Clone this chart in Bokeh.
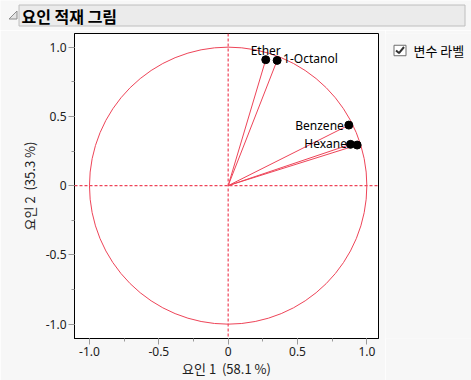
from bokeh.plotting import figure
from bokeh.layouts import column, row
from bokeh.models import (Range1d, Span, Label, ColumnDataSource,
                          SingleIntervalTicker, CustomJSTickFormatter)
from bokeh.embed import file_html
from bokeh.resources import INLINE
from bokeh.core.properties import value

# ---- data ----
variables = ["Ether", "1-Octanol", "Benzene", "Hexane", "Chloroform"]
factor1 = [0.271, 0.353, 0.870, 0.882, 0.930]
factor2 = [0.909, 0.904, 0.437, 0.298, 0.293]
labeled = ["Ether", "1-Octanol", "Benzene", "Hexane"]
x_title = "요인 1\u00a0 (58.1 %)"
y_title = "요인 2\u00a0 (35.3 %)"
panel_title = "요인 적재 그림"
check_label = "변수 라벨"

# ---- styles ----
RED = "#EE4458"
BG = "#F7F7F7"
KR = "Noto Sans CJK KR"
label_place = {
    "Ether": dict(x_offset=0, y_offset=9, text_align="center"),
    "1-Octanol": dict(x_offset=6, y_offset=1.5, text_align="left"),
    "Benzene": dict(x_offset=-5, y_offset=0, text_align="right"),
    "Hexane": dict(x_offset=-3.5, y_offset=1, text_align="right"),
}


def blank(width, height, xr, yr):
    f = figure(width=width, height=height, x_range=Range1d(*xr), y_range=Range1d(*yr),
               output_backend="svg", toolbar_location=None, title=None,
               x_axis_location=None, y_axis_location=None, min_border=0)
    f.outline_line_color = None
    f.background_fill_color = BG
    f.border_fill_color = BG
    f.grid.visible = False
    return f


# ---- header ----
hdr = blank(471, 30, (0, 471), (30, 0))
hdr.quad(left=[18.5], right=[464.5], top=[4.5], bottom=[25.5],
         fill_color="#EBEBEB", line_color="#BEBEBE", line_width=1)
hdr.patch([8.5, 16.5, 16.5], [18.5, 18.5, 10.5], fill_color="#E4E4E4",
          line_color="#8C8C8C", line_width=1)
hdr.text(x=[21], y=[15.5], text=[panel_title], text_font=value(KR),
         text_font_size="16px", text_font_style="bold", text_color="#000000",
         text_baseline="middle", text_align="left")

# ---- main plot ----
src = ColumnDataSource(dict(x=factor1, y=factor2, name=variables))
p = figure(width=385, height=350, x_range=Range1d(-1.108, 1.084),
           y_range=Range1d(-1.103, 1.098), output_backend="svg",
           toolbar_location=None, title=None,
           min_border_left=74, min_border_right=7, min_border_top=3, min_border_bottom=41)
p.background_fill_color = "white"
p.border_fill_color = BG
p.outline_line_color = "black"
p.outline_line_width = 1
p.grid.visible = False

p.add_layout(Span(location=0, dimension="height", line_color=RED, line_dash="3 2", line_width=1.2))
p.add_layout(Span(location=0, dimension="width", line_color=RED, line_dash="3 2", line_width=1.2))
p.ellipse(x=0, y=0, width=2, height=2, fill_color=None, line_color=RED, line_width=1)
p.segment(x0=0, y0=0, x1="x", y1="y", source=src, line_color=RED, line_width=1)
p.scatter(x="x", y="y", source=src, size=8, fill_color="black", line_color="black")

for name in labeled:
    i = variables.index(name)
    p.add_layout(Label(x=factor1[i], y=factor2[i], text=name, text_font="Noto Sans",
                       text_font_size="12px", text_color="black", text_baseline="middle",
                       **label_place[name]))

p.xaxis.axis_label = x_title
p.yaxis.axis_label = y_title
for ax in (p.xaxis[0], p.yaxis[0]):
    ax.ticker = SingleIntervalTicker(interval=0.5, num_minor_ticks=2)
    ax.formatter = CustomJSTickFormatter(code="return tick == 0 ? '0' : tick.toFixed(1);")
    ax.major_tick_in = 0
    ax.major_tick_out = 6
    ax.minor_tick_in = 0
    ax.minor_tick_out = 3
    ax.major_tick_line_color = "#9A9A9A"
    ax.minor_tick_line_color = "#9A9A9A"
    ax.axis_line_color = "black"
    ax.major_label_text_font = "Noto Sans"
    ax.major_label_text_font_size = "12px"
    ax.major_label_text_color = "#202020"
    ax.axis_label_text_font = KR
    ax.axis_label_text_font_size = "13px"
    ax.axis_label_text_font_style = "normal"
    ax.axis_label_text_color = "#202020"
p.xaxis.major_label_standoff = 2
p.xaxis.axis_label_standoff = 0
p.yaxis.major_label_standoff = 2
p.yaxis.axis_label_standoff = 4

# ---- side panel with checkbox ----
side = blank(86, 350, (385, 471), (380, 30))
side.quad(left=[393.5], right=[405.5], top=[43.5], bottom=[55.5],
          fill_color="white", line_color="#6E6E6E", line_width=1)
side.line([395.5, 398.5, 403.5], [49.5, 52.5, 45.5], line_color="#333333", line_width=2)
side.text(x=[413], y=[49.5], text=[check_label], text_font=value(KR),
          text_font_size="13px", text_color="#000000", text_baseline="middle",
          text_align="left")

layout = column(hdr, row(p, side))
open("out.html", "w").write(file_html(layout, INLINE))
